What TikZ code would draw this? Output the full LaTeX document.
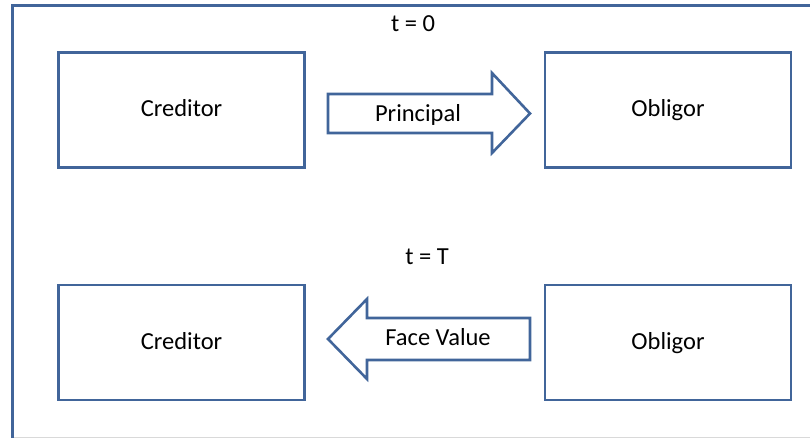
\documentclass[tikz,border=0pt]{standalone}
\usepackage{fontspec}
\setmainfont{Carlito}
\definecolor{ob}{HTML}{41659A}
\begin{document}
\begin{tikzpicture}[x=1pt,y=-1pt,
  txt/.style={font=\fontsize{24.5}{28}\selectfont, text=black, inner sep=0pt},
  party/.style={txt, draw=ob, line width=2.6pt, fill=white, minimum width=246pt, minimum height=115pt, text height=14pt, text depth=0pt},
  blockarrow/.style={draw=ob, line width=2.6pt, fill=white, line join=miter}]
\useasboundingbox (0,0) rectangle (810,438);
\draw[black!15, line width=1pt] (12,437.5) -- (810,437.5);
\draw[ob, line width=3pt] (12,438) -- (12,6) -- (810,6);

\node[txt, anchor=base] (t0) at (413,32) {t = 0};
\node[party] (cred1) at (181.5,110) {Creditor};
\node[party] (obl1) at (668,110) {Obligor};
\draw[blockarrow] (328,94) -- (492,94) -- (492,73) -- (530,113.5) -- (492,153) -- (492,133) -- (328,133) -- cycle;
\node[txt, anchor=base] (princ) at (418,122) {Principal};

\node[txt, anchor=base] (tT) at (427,264) {t = T};
\node[party] (cred2) at (181.5,342.5) {Creditor};
\node[party] (obl2) at (668,342.5) {Obligor};
\draw[blockarrow] (530,318) -- (367,318) -- (367,299) -- (328,339) -- (367,379) -- (367,360) -- (530,360) -- cycle;
\node[txt, anchor=base] (face) at (438,345) {Face Value};
\end{tikzpicture}
\end{document}
